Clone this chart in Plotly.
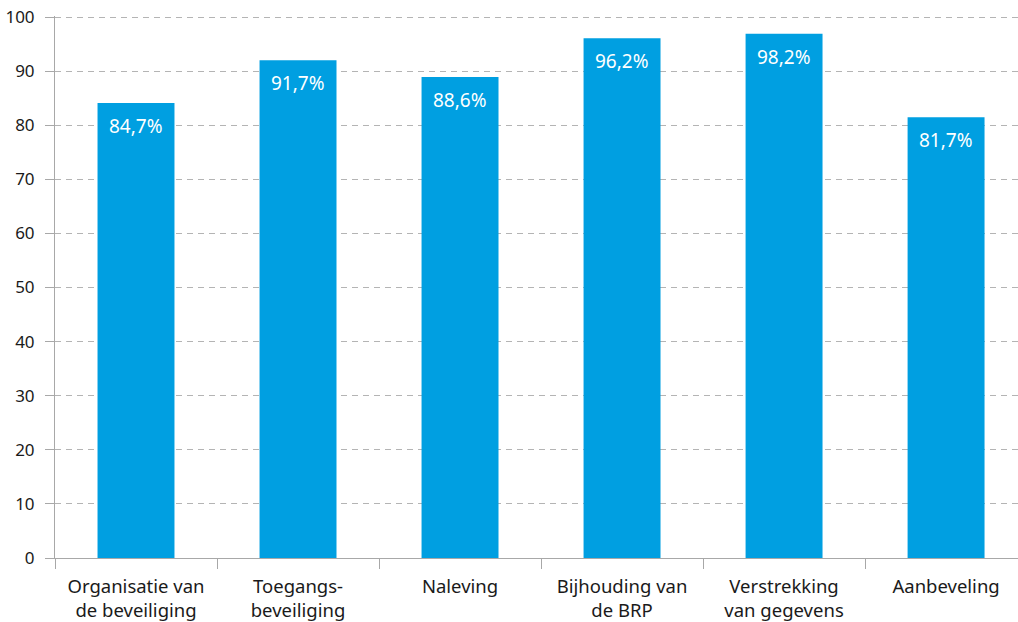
import plotly.graph_objects as go

categories = ["Organisatie van<br>de beveiliging", "Toegangs-<br>beveiliging", "Naleving",
              "Bijhouding van<br>de BRP", "Verstrekking<br>van gegevens", "Aanbeveling"]
values = [84.1, 92.0, 88.9, 96.1, 96.9, 81.5]
labels = ["84,7%", "91,7%", "88,6%", "96,2%", "98,2%", "81,7%"]
y_ticks = [0, 10, 20, 30, 40, 50, 60, 70, 80, 90, 100]

BLUE = "#009FE1"
GRAY = "#a8a8a8"
FONT = "Noto Sans"

fig = go.Figure()
fig.add_trace(go.Bar(x=categories, y=values, marker=dict(color=BLUE, line=dict(width=0)),
                     width=0.475, hoverinfo="skip"))

for c, v, t in zip(categories, values, labels):
    fig.add_annotation(x=c, y=v, text=t, showarrow=False, yanchor="top", yshift=-8,
                       font=dict(family=FONT, size=19, color="white"))

fig.update_layout(
    width=1018, height=622,
    margin=dict(l=55, r=0, t=16, b=64),
    paper_bgcolor="white", plot_bgcolor="white",
    showlegend=False,
    font=dict(family=FONT, size=16, color="#1a1a1a"),
    xaxis=dict(
        type="category", range=[-0.5, 5.444], tickson="boundaries",
        ticks="outside", ticklen=10, tickcolor=GRAY, tickwidth=1,
        showline=True, linecolor=GRAY, linewidth=1, showgrid=False,
        automargin=False, ticklabelstandoff=12,
        tickfont=dict(family=FONT, size=18.5, color="#1a1a1a"),
    ),
    yaxis=dict(
        range=[0, 100.2], tickvals=y_ticks, ticktext=[str(v) for v in y_ticks],
        ticks="outside", ticklen=9, tickcolor=GRAY, tickwidth=1,
        showline=True, linecolor=GRAY, linewidth=1,
        showgrid=True, gridcolor="#b4b4b4", gridwidth=1, griddash="6px,5px",
        zeroline=False, ticklabelstandoff=7, automargin=False,
        ticklabeloverflow="allow",
        tickfont=dict(family=FONT, size=17, color="#1a1a1a"),
    ),
)

fig.write_html("out.html", config={"displayModeBar": False, "staticPlot": True},
               post_script="document.body.style.margin='0';document.body.style.overflow='hidden';")
